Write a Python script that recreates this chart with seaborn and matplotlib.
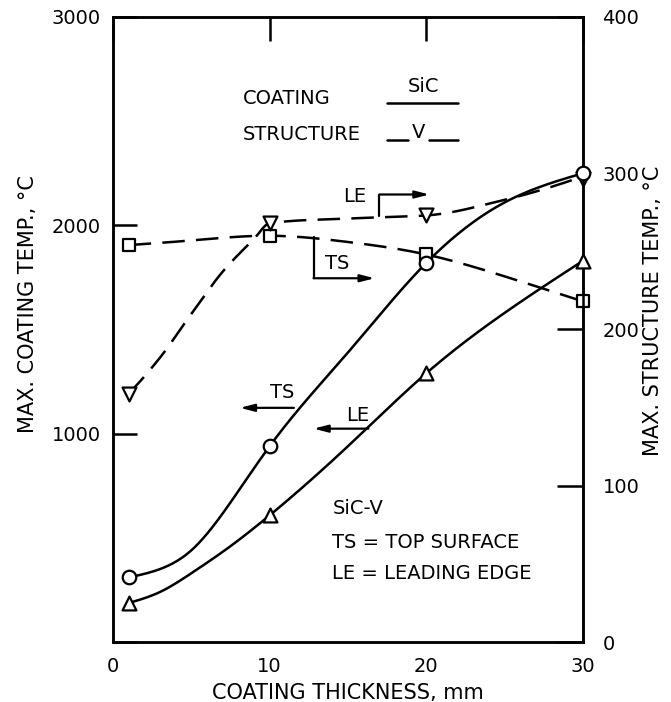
import numpy as np
import pandas as pd
import matplotlib
matplotlib.use("Agg")
import matplotlib.pyplot as plt
import seaborn as sns

# ---------------- data ----------------
thickness = [1, 10, 20, 30]
coating_ts = [310, 940, 1820, 2250]      # deg C, left axis (circles)
coating_le = [187, 608, 1290, 1830]      # deg C, left axis (triangles up)
structure_ts = [254, 260, 248, 218]      # deg C, right axis (squares)
structure_le = [159, 268, 273, 296]      # deg C, right axis (triangles down)

# points
ts_trace_x = [1, 3, 5, 7.5, 10, 15, 20, 25, 30]
ts_trace_y = [310, 350, 440, 670, 940, 1390, 1820, 2110, 2250]
le_trace_x = [1, 3, 5, 7.5, 10, 15, 20, 25, 30]
le_trace_y = [187, 240, 330, 460, 608, 940, 1290, 1580, 1830]
sts_trace_x = [1, 5, 10, 15, 20, 25, 30]
sts_trace_y = [254, 257, 260, 256, 248, 234, 218]
sle_trace_x = [1, 3, 5, 7, 9, 10, 15, 20, 25, 30]
sle_trace_y = [159, 182, 210, 237, 258, 268, 271, 273, 283, 298]

x_ticks = [0, 10, 20, 30]
left_ticks = [0, 1000, 2000, 3000]
left_labels = ["", "1000", "2000", "3000"]
right_ticks = [0, 100, 200, 300, 400]
right_labels = ["0", "100", "200", "300", "400"]


def pchip(x, y, n=300):
    """monotone cubic curve through read points, for drawing"""
    x = np.asarray(x, float)
    y = np.asarray(y, float)
    h = np.diff(x)
    d = np.diff(y) / h
    k = len(x)
    m = np.zeros(k)
    for i in range(1, k - 1):
        if d[i - 1] * d[i] > 0:
            w1 = 2 * h[i] + h[i - 1]
            w2 = h[i] + 2 * h[i - 1]
            m[i] = (w1 + w2) / (w1 / d[i - 1] + w2 / d[i])

    def end(h0, h1, d0, d1):
        mm = ((2 * h0 + h1) * d0 - h0 * d1) / (h0 + h1)
        if np.sign(mm) != np.sign(d0):
            mm = 0.0
        elif np.sign(d0) != np.sign(d1) and abs(mm) > abs(3 * d0):
            mm = 3 * d0
        return mm

    m[0] = end(h[0], h[1], d[0], d[1])
    m[-1] = end(h[-1], h[-2], d[-1], d[-2])
    xs = np.linspace(x[0], x[-1], n)
    idx = np.clip(np.searchsorted(x, xs) - 1, 0, k - 2)
    t = (xs - x[idx]) / h[idx]
    h00 = 2 * t**3 - 3 * t**2 + 1
    h10 = t**3 - 2 * t**2 + t
    h01 = -2 * t**3 + 3 * t**2
    h11 = t**3 - t**2
    ys = h00 * y[idx] + h10 * h[idx] * m[idx] + h01 * y[idx + 1] + h11 * h[idx] * m[idx + 1]
    return pd.DataFrame({"x": xs, "y": ys})


def natural(x, y, n=300):
    """natural cubic spline through read points, for drawing"""
    x = np.asarray(x, float)
    y = np.asarray(y, float)
    k = len(x)
    h = np.diff(x)
    A = np.zeros((k, k))
    r = np.zeros(k)
    A[0, 0] = A[-1, -1] = 1.0
    for i in range(1, k - 1):
        A[i, i - 1] = h[i - 1]
        A[i, i] = 2 * (h[i - 1] + h[i])
        A[i, i + 1] = h[i]
        r[i] = 6 * ((y[i + 1] - y[i]) / h[i] - (y[i] - y[i - 1]) / h[i - 1])
    M = np.linalg.solve(A, r)
    xs = np.linspace(x[0], x[-1], n)
    i = np.clip(np.searchsorted(x, xs) - 1, 0, k - 2)
    hi = h[i]
    a = x[i + 1] - xs
    b = xs - x[i]
    ys = (M[i] * a**3 + M[i + 1] * b**3) / (6 * hi) \
        + (y[i] / hi - M[i] * hi / 6) * a + (y[i + 1] / hi - M[i + 1] * hi / 6) * b
    return pd.DataFrame({"x": xs, "y": ys})


sns.set_theme(style="white")
plt.rcParams["font.family"] = ["DejaVu Sans"]
plt.rcParams["text.color"] = "black"
plt.rcParams["axes.labelcolor"] = "black"

W, H = 671, 702
fig = plt.figure(figsize=(W / 100, H / 100), dpi=100)
L, R, T, B = 113, 583, 17, 642
ax = fig.add_axes([L / W, 1 - B / H, (R - L) / W, (B - T) / H])
ax2 = ax.twinx()
ax.set_zorder(ax2.get_zorder() + 1)
ax.patch.set_visible(False)

LW = 1.8
FS = 14
FSL = 15
DASH = (0, (9, 4.5))
MK = dict(color="white", edgecolor="black", linewidth=1.6, zorder=5, clip_on=False)

# coating (solid) on left axis
for df in [natural(ts_trace_x, ts_trace_y), natural(le_trace_x, le_trace_y)]:
    sns.lineplot(data=df, x="x", y="y", ax=ax, color="black", lw=LW,
                 estimator=None, sort=False)
sns.scatterplot(x=thickness, y=coating_ts, ax=ax, marker="o", s=95, **MK)
sns.scatterplot(x=thickness, y=coating_le, ax=ax, marker="^", s=100, **MK)

# structure (dashed) on right axis
for df in [natural(sts_trace_x, sts_trace_y), pchip(sle_trace_x, sle_trace_y)]:
    sns.lineplot(data=df, x="x", y="y", ax=ax2, color="black", lw=LW,
                 estimator=None, sort=False)
    ax2.lines[-1].set_linestyle(DASH)
sns.scatterplot(x=thickness, y=structure_ts, ax=ax2, marker="s", s=80, **MK)
sns.scatterplot(x=thickness, y=structure_le, ax=ax2, marker="v", s=100, **MK)

# axes
ax.set_xlim(0, 30)
ax.set_ylim(0, 3000)
ax2.set_ylim(0, 400)
ax.set_xticks(x_ticks)
ax.set_xticklabels([str(v) for v in x_ticks])
ax.set_yticks(left_ticks)
ax.set_yticklabels(left_labels)
ax2.set_yticks(right_ticks)
ax2.set_yticklabels(right_labels)
ax.set_xlabel("")
ax.set_ylabel("")
ax2.set_ylabel("")
ax.tick_params(axis="x", direction="in", length=17, width=1.8, top=True,
               labelsize=FS, pad=11, colors="black")
ax.tick_params(axis="y", direction="in", length=17, width=1.8, left=True,
               right=False, labelsize=FS, pad=9, colors="black")
ax2.tick_params(axis="y", direction="in", length=19, width=1.8, right=True,
                left=False, labelsize=FS, pad=14, colors="black")
ax2.yaxis.get_major_ticks()[3].tick2line.set_visible(False)
for a in (ax, ax2):
    for s in a.spines.values():
        s.set_linewidth(1.8)
        s.set_color("black")

ax.text(0.5, -0.082, "COATING THICKNESS, mm", transform=ax.transAxes,
        ha="center", va="center", fontsize=FSL)
ax.text(-0.18, 0.54, "MAX. COATING TEMP., °C", transform=ax.transAxes,
        ha="center", va="center", rotation=90, fontsize=FSL)
ax.text(1.148, 0.53, "MAX. STRUCTURE TEMP., °C", transform=ax.transAxes,
        ha="center", va="center", rotation=90, fontsize=FSL)

# legend-like key
ax.text(8.3, 2608, "COATING", ha="left", va="center", fontsize=FS)
ax.text(8.3, 2435, "STRUCTURE", ha="left", va="center", fontsize=FS)
ax.plot([17.5, 22.0], [2589, 2589], color="black", lw=LW)
ax.text(19.8, 2668, "SiC", ha="center", va="center", fontsize=FS)
ax.plot([17.5, 18.8], [2411, 2411], color="black", lw=LW)
ax.plot([20.2, 22.0], [2411, 2411], color="black", lw=LW)
ax.text(19.5, 2448, "V", ha="center", va="center", fontsize=FS)

arrow = dict(arrowstyle="-|>,head_length=0.7,head_width=0.18",
             color="black", lw=1.6, shrinkA=0, shrinkB=0)
# upper LE bracket (structure)
ax.text(15.4, 2139, "LE", ha="center", va="center", fontsize=FS)
ax.plot([17.0, 17.0], [2043, 2148], color="black", lw=1.6)
ax.annotate("", xy=(20.2, 2148), xytext=(17.0, 2148), arrowprops=arrow)
# TS bracket (structure)
ax.text(14.3, 1818, "TS", ha="center", va="center", fontsize=FS)
ax.plot([12.8, 12.8], [1746, 1943], color="black", lw=1.6)
ax.annotate("", xy=(16.7, 1746), xytext=(12.8, 1746), arrowprops=arrow)
# coating TS / LE
ax.text(10.8, 1196, "TS", ha="center", va="center", fontsize=FS)
ax.annotate("", xy=(8.1, 1124), xytext=(11.55, 1124), arrowprops=arrow)
ax.text(15.6, 1086, "LE", ha="center", va="center", fontsize=FS)
ax.annotate("", xy=(12.8, 1024), xytext=(16.3, 1024), arrowprops=arrow)

# notes
ax.text(14.0, 641, "SiC-V", ha="left", va="center", fontsize=FS)
ax.text(14.0, 478, "TS = TOP SURFACE", ha="left", va="center", fontsize=FS)
ax.text(14.0, 330, "LE = LEADING EDGE", ha="left", va="center", fontsize=FS)

fig.savefig("out.png", dpi=100, facecolor="white")
